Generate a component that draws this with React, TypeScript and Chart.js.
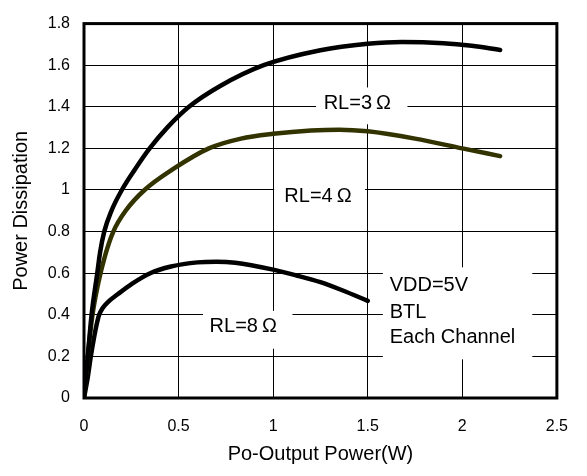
import { useEffect, useRef } from 'react';
import { Chart, registerables } from 'chart.js';

Chart.register(...registerables);

// Tick labels
const X_TICKS = ['0', '0.5', '1', '1.5', '2', '2.5'];
const Y_TICKS = ['0', '0.2', '0.4', '0.6', '0.8', '1', '1.2', '1.4', '1.6', '1.8'];

// RL = 3 ohm
const RL3_X = [0, 0.02, 0.04, 0.07, 0.085, 0.107, 0.145, 0.2, 0.27, 0.347, 0.44, 0.555, 0.72, 0.95, 1.25, 1.5, 1.68, 1.9, 2.05, 2.2];
const RL3_Y = [0, 0.2, 0.4, 0.6, 0.7, 0.8, 0.9, 1.0, 1.1, 1.2, 1.3, 1.4, 1.5, 1.6, 1.672, 1.703, 1.712, 1.706, 1.693, 1.673];

// RL = 4 ohm
const RL4_X = [0, 0.02, 0.045, 0.075, 0.11, 0.155, 0.22, 0.32, 0.47, 0.66, 0.83, 1.0, 1.2, 1.35, 1.5, 1.75, 2.0, 2.2];
const RL4_Y = [0, 0.2, 0.4, 0.55, 0.68, 0.8, 0.9, 1.0, 1.1, 1.2, 1.247, 1.27, 1.286, 1.29, 1.282, 1.247, 1.2, 1.163];

// RL = 8 ohm
const RL8_X = [0, 0.02, 0.036, 0.055, 0.066, 0.08, 0.097, 0.125, 0.18, 0.255, 0.35, 0.46, 0.6, 0.7, 0.8, 1.0, 1.12, 1.25, 1.365, 1.5];
const RL8_Y = [0, 0.1, 0.2, 0.3, 0.35, 0.4, 0.43, 0.46, 0.5, 0.55, 0.6, 0.632, 0.652, 0.655, 0.65, 0.617, 0.59, 0.557, 0.518, 0.467];

const FONT = '"Liberation Sans", Arial, sans-serif';

// Annotation labels (positions in data units)
type Note = { lines: string[]; box: [number, number, number, number]; x: number; ys: number[]; align: CanvasTextAlign };
const NOTES: Note[] = [
  { lines: ['RL=3\u2009\u03A9'], box: [1.227, 1.71, 1.316, 1.493], x: 1.445, ys: [1.414], align: 'center' },
  { lines: ['RL=4\u2009\u03A9'], box: [1.005, 1.486, 0.912, 1.084], x: 1.237, ys: [0.967], align: 'center' },
  { lines: ['RL=8\u2009\u03A9'], box: [0.629, 1.102, 0.237, 0.419], x: 0.842, ys: [0.344], align: 'center' },
  { lines: ['VDD=5V', 'BTL', 'Each Channel'], box: [1.58, 2.37, 0.186, 0.628], x: 1.616, ys: [0.542, 0.409, 0.293], align: 'left' },
];

const zip = (xs: number[], ys: number[]) => xs.map((x, i) => ({ x, y: ys[i] }));

const notesPlugin = {
  id: 'notes',
  beforeDatasetsDraw(chart: any) {
    const { ctx, scales } = chart;
    const xs = scales.x;
    const ys = scales.y;
    ctx.save();
    for (const n of NOTES) {
      const [x0, x1, y0, y1] = n.box;
      const px0 = xs.getPixelForValue(x0);
      const px1 = xs.getPixelForValue(x1);
      const py0 = ys.getPixelForValue(y1);
      const py1 = ys.getPixelForValue(y0);
      ctx.fillStyle = '#ffffff';
      ctx.fillRect(px0, py0, px1 - px0, py1 - py0);
      ctx.fillStyle = '#000000';
      ctx.font = `20px ${FONT}`;
      ctx.textAlign = n.align;
      ctx.textBaseline = 'middle';
      n.lines.forEach((t, i) => {
        ctx.fillText(t, xs.getPixelForValue(n.x), ys.getPixelForValue(n.ys[i]));
      });
    }
    ctx.restore();
  },
  afterDatasetsDraw(chart: any) {
    const { ctx, chartArea } = chart;
    ctx.save();
    ctx.strokeStyle = '#000';
    ctx.lineWidth = 3;
    ctx.strokeRect(chartArea.left, chartArea.top, chartArea.right - chartArea.left, chartArea.bottom - chartArea.top);
    ctx.restore();
  },
};

export default function App() {
  const ref = useRef<HTMLCanvasElement | null>(null);
  useEffect(() => {
    if (!ref.current) return;
    const line = { borderWidth: 4.5, pointRadius: 0, fill: false, cubicInterpolationMode: 'monotone' as const, borderCapStyle: 'round' as const, borderJoinStyle: 'round' as const };
    const chart = new Chart(ref.current, {
      type: 'line',
      data: {
        datasets: [
          { label: 'RL=3', data: zip(RL3_X, RL3_Y), borderColor: '#000000', ...line },
          { label: 'RL=4', data: zip(RL4_X, RL4_Y), borderColor: '#333300', ...line },
          { label: 'RL=8', data: zip(RL8_X, RL8_Y), borderColor: '#000000', ...line },
        ],
      },
      options: {
        animation: false,
        responsive: true,
        maintainAspectRatio: false,
        layout: { padding: { left: 0, right: 22, top: 11, bottom: 0 } },
        plugins: { legend: { display: false }, tooltip: { enabled: false } },
        scales: {
          x: {
            type: 'linear',
            min: 0,
            max: 2.5,
            ticks: {
              stepSize: 0.5,
              color: '#000',
              font: { family: FONT, size: 16 },
              padding: 19,
              maxRotation: 0,
              callback: (_v: any, i: number) => X_TICKS[i],
            },
            grid: { color: '#000', lineWidth: 1, drawTicks: false },
            border: { display: false },
            title: { display: true, text: 'Po-Output Power(W)', color: '#000', font: { family: FONT, size: 20 }, padding: { top: 0, bottom: 10 } },
            afterFit: (s: any) => { s.height = 78; },
          },
          y: {
            type: 'linear',
            min: 0,
            max: 1.8,
            ticks: {
              stepSize: 0.2,
              color: '#000',
              font: { family: FONT, size: 16 },
              padding: 14,
              callback: (_v: any, i: number) => Y_TICKS[i],
            },
            grid: { color: '#000', lineWidth: 1, drawTicks: false },
            border: { display: false },
            title: { display: true, text: 'Power Dissipation', color: '#000', font: { family: FONT, size: 20 }, padding: { top: 9, bottom: 0 } },
            afterFit: (s: any) => { s.width = 84; },
          },
        },
      },
      plugins: [notesPlugin],
    });
    return () => chart.destroy();
  }, []);
  return (
    <div style={{ position: 'absolute', left: 0, top: 0, width: 587, height: 476, background: '#fff' }}>
      <canvas ref={ref} />
    </div>
  );
}
